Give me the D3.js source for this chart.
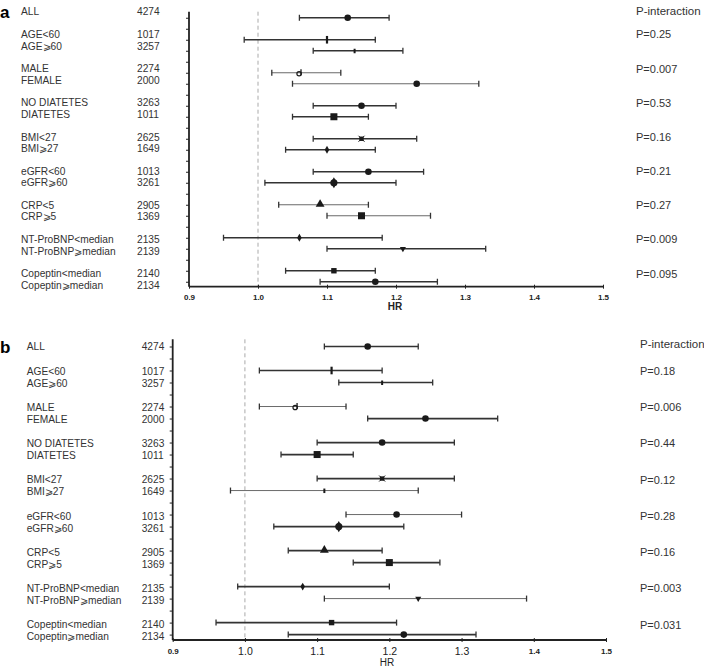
<!DOCTYPE html>
<html>
<head>
<meta charset="utf-8">
<script src="https://cdn.jsdelivr.net/npm/d3@7"></script>
<style>
  body { margin: 0; background: #fff; }
  svg { display: block; font-family: "Liberation Sans", Arial, sans-serif; }
</style>
</head>
<body>
<svg id="chart" width="704" height="667"></svg>
<script>
// ---------------- data ----------------
const subgroups = ["ALL", "AGE<60", "AGE⩾60", "MALE", "FEMALE", "NO DIATETES", "DIATETES",
  "BMI<27", "BMI⩾27", "eGFR<60", "eGFR⩾60", "CRP<5", "CRP⩾5",
  "NT-ProBNP<median", "NT-ProBNP⩾median", "Copeptin<median", "Copeptin⩾median"];
const groupIds = [0, 1, 1, 2, 2, 3, 3, 4, 4, 5, 5, 6, 6, 7, 7, 8, 8];
const nValues = [4274, 1017, 3257, 2274, 2000, 3263, 1011, 2625, 1649, 1013, 3261, 2905, 1369, 2135, 2139, 2140, 2134];

const hrA = [1.13, 1.10, 1.14, 1.06, 1.23, 1.15, 1.11, 1.15, 1.10, 1.16, 1.11, 1.09, 1.15, 1.06, 1.21, 1.11, 1.17];
const loA = [1.06, 0.98, 1.08, 1.02, 1.05, 1.08, 1.05, 1.08, 1.04, 1.08, 1.01, 1.03, 1.10, 0.95, 1.10, 1.04, 1.09];
const hiA = [1.19, 1.17, 1.21, 1.12, 1.32, 1.20, 1.16, 1.23, 1.17, 1.24, 1.20, 1.16, 1.25, 1.18, 1.33, 1.17, 1.26];

const hrB = [1.17, 1.12, 1.19, 1.07, 1.25, 1.19, 1.10, 1.19, 1.11, 1.21, 1.13, 1.11, 1.20, 1.08, 1.24, 1.12, 1.22];
const loB = [1.11, 1.02, 1.13, 1.02, 1.17, 1.10, 1.05, 1.10, 0.98, 1.14, 1.04, 1.06, 1.15, 0.99, 1.11, 0.96, 1.06];
const hiB = [1.24, 1.19, 1.26, 1.14, 1.35, 1.29, 1.15, 1.29, 1.24, 1.30, 1.22, 1.19, 1.27, 1.20, 1.39, 1.21, 1.32];

const pHeader = "P-interaction";
const pA = ["P=0.25", "P=0.007", "P=0.53", "P=0.16", "P=0.21", "P=0.27", "P=0.009", "P=0.095"];
const pB = ["P=0.18", "P=0.006", "P=0.44", "P=0.12", "P=0.28", "P=0.16", "P=0.003", "P=0.031"];

const xTicks = [0.9, 1.0, 1.1, 1.2, 1.3, 1.4, 1.5];
const xDomain = [0.9, 1.5];
const refValue = 1.0;

const markersA = ["circle", "vbar", "tick", "d", "circle", "circle", "square", "xbox", "diamondS",
  "circle", "circleL", "triangle", "square", "diamondS", "tridown", "squareS", "circle"];
const markersB = ["circle", "vbar", "tick", "d", "circle", "circle", "square", "xbox", "tick",
  "circle", "circleL", "triangle", "square", "diamondS", "tridown", "squareS", "circle"];

// ---------------- layout / style ----------------
const svg = d3.select("#chart");
const slots = subgroups.map((d, i) => i + groupIds[i]);

function drawMarker(g, type, x, y) {
  const col = "#1a1a1a";
  switch (type) {
    case "circle":
      g.append("circle").attr("cx", x).attr("cy", y).attr("r", 3.3).attr("fill", col); break;
    case "circleL":
      g.append("path").attr("d", d3.symbol(d3.symbolDiamond, 36)()).attr("transform", `translate(${x},${y})`).attr("fill", col);
      g.append("circle").attr("cx", x).attr("cy", y).attr("r", 3.6).attr("fill", col); break;
    case "square":
      g.append("rect").attr("x", x - 3.5).attr("y", y - 3.5).attr("width", 7).attr("height", 7).attr("fill", col); break;
    case "squareS":
      g.append("rect").attr("x", x - 2.7).attr("y", y - 2.7).attr("width", 5.4).attr("height", 5.4).attr("fill", col); break;
    case "triangle":
      g.append("path").attr("d", d3.symbol(d3.symbolTriangle, 34)()).attr("transform", `translate(${x},${y - 0.5})`).attr("fill", col); break;
    case "tridown":
      g.append("path").attr("d", d3.symbol(d3.symbolTriangle, 16)()).attr("transform", `translate(${x},${y}) rotate(180)`).attr("fill", col); break;
    case "diamondS":
      g.append("path").attr("d", d3.symbol(d3.symbolDiamond, 18)()).attr("transform", `translate(${x},${y})`).attr("fill", col); break;
    case "xbox":
      g.append("rect").attr("x", x - 2.2).attr("y", y - 2.2).attr("width", 4.4).attr("height", 4.4).attr("fill", col);
      g.append("path").attr("d", `M${x - 3},${y - 3}L${x + 3},${y + 3}M${x - 3},${y + 3}L${x + 3},${y - 3}`).attr("stroke", col).attr("stroke-width", 1); break;
    case "vbar":
      g.append("rect").attr("x", x - 1.1).attr("y", y - 3.8).attr("width", 2.2).attr("height", 7.6).attr("fill", col); break;
    case "tick":
      g.append("rect").attr("x", x - 1).attr("y", y - 2).attr("width", 2).attr("height", 4.5).attr("fill", col); break;
    case "d":
      g.append("circle").attr("cx", x - 0.3).attr("cy", y + 1).attr("r", 2.2).attr("fill", "none").attr("stroke", col).attr("stroke-width", 1.2);
      g.append("path").attr("d", `M${x + 1.6},${y + 2.5}L${x + 1.6},${y - 3.5}`).attr("stroke", col).attr("stroke-width", 1.3); break;
  }
}

function drawPanel(cfg) {
  const g = svg.append("g");
  const x = d3.scaleLinear().domain(xDomain).range([cfg.x0, cfg.x1]);
  const y = d3.scaleLinear().domain(cfg.yDomain).range([cfg.yTop, cfg.yBottom]);
  const yl = d3.scaleLinear().domain([0, 24]).range(cfg.labelRange);

  // panel letter
  g.append("text").attr("x", cfg.letterX).attr("y", yl(0)).attr("dy", "0.36em")
    .attr("font-size", 17).attr("font-weight", "bold").attr("fill", "#000").text(cfg.letter);

  // labels and n
  subgroups.forEach((s, i) => {
    g.append("text").attr("x", cfg.labelX).attr("y", yl(slots[i])).attr("dy", "0.36em")
      .attr("font-size", 10.2).attr("fill", "#333").text(s);
    g.append("text").attr("x", cfg.nX).attr("y", yl(slots[i])).attr("dy", "0.36em")
      .attr("font-size", 10.2).attr("fill", "#333").text(nValues[i]);
  });

  // P column
  g.append("text").attr("x", cfg.pX).attr("y", yl(0) + cfg.pHeadDy).attr("dy", "0.36em")
    .attr("font-size", 11.5).attr("fill", "#333").text(pHeader);
  const firstRows = [];
  groupIds.forEach((gid, i) => { if (gid > 0 && groupIds[i - 1] !== gid) firstRows.push(i); });
  cfg.pvals.forEach((p, j) => {
    g.append("text").attr("x", cfg.pX).attr("y", yl(slots[firstRows[j]])).attr("dy", "0.36em")
      .attr("font-size", 11).attr("fill", "#333").text(p);
  });

  // reference line
  g.append("line").attr("x1", x(refValue)).attr("x2", x(refValue))
    .attr("y1", cfg.yTop).attr("y2", cfg.yBottom)
    .attr("stroke", "#aaa").attr("stroke-width", 1).attr("stroke-dasharray", "4,3");

  // y axis
  const yAxis = d3.axisLeft(y).tickValues(d3.range(0, 25)).tickSize(3).tickFormat("");
  const ya = g.append("g").attr("transform", `translate(${cfg.x0},0)`).call(yAxis);
  ya.select(".domain").attr("stroke", "#222").attr("stroke-width", 1.8).attr("d", `M0,${cfg.yTop}V${cfg.yBottom}`);
  ya.selectAll(".tick line").attr("stroke", "#222").attr("stroke-width", 1);

  // x axis
  const xAxis = d3.axisBottom(x).tickValues(xTicks).tickSize(3).tickFormat(d3.format(".1f"));
  const xa = g.append("g").attr("transform", `translate(0,${cfg.yBottom})`).call(xAxis);
  xa.select(".domain").attr("stroke", "#222").attr("stroke-width", 1.8).attr("d", `M${cfg.x0},0H${cfg.x1}`);
  xa.selectAll(".tick line").attr("stroke", "#222").attr("y1", -2).attr("y2", 2);
  xa.selectAll(".tick text").attr("fill", "#222").attr("y", cfg.tickLabelDy).attr("dy", "0.36em")
    .attr("font-family", "\"Liberation Sans\", Arial, sans-serif")
    .each(function (d) {
      const bold = cfg.boldTick(d);
      d3.select(this).attr("font-weight", bold ? "bold" : "normal").attr("font-size", bold ? 8 : 10.5);
    });

  g.append("text").attr("x", cfg.hrX).attr("y", cfg.yBottom + cfg.hrDy).attr("dy", "0.36em")
    .attr("text-anchor", "middle").attr("font-size", 10).attr("font-weight", cfg.hrBold ? "bold" : "normal")
    .attr("fill", "#222").text("HR");

  // error bars
  subgroups.forEach((s, i) => {
    const yy = y(slots[i]);
    const thin = cfg.thinRows.includes(i);
    const col = thin ? "#6a6a6a" : "#333";
    const sw = thin ? 1 : 1.7;
    const row = g.append("g");
    row.append("line").attr("x1", x(cfg.lo[i])).attr("x2", x(cfg.hi[i])).attr("y1", yy).attr("y2", yy)
      .attr("stroke", col).attr("stroke-width", sw);
    [cfg.lo[i], cfg.hi[i]].forEach(v => {
      row.append("line").attr("x1", x(v)).attr("x2", x(v)).attr("y1", yy - 3).attr("y2", yy + 3)
        .attr("stroke", "#333").attr("stroke-width", 1.3);
    });
    drawMarker(row, cfg.markers[i], x(cfg.hr[i]), yy);
  });
}

drawPanel({
  letter: "a", letterX: 0, labelX: 21, nX: 137, pX: 636, pHeadDy: -0.5,
  x0: 189, x1: 603, yTop: 11.7, yBottom: 286.7, yDomain: [-0.55, 24.45],
  labelRange: [11.7, 285],
  hr: hrA, lo: loA, hi: hiA, pvals: pA, markers: markersA,
  thinRows: [3, 4, 11, 12],
  tickLabelDy: 10, boldTick: d => true, hrX: 395, hrDy: 20, hrBold: true
});

drawPanel({
  letter: "b", letterX: 0, labelX: 26.7, nX: 141.7, pX: 640, pHeadDy: -2.5,
  x0: 172.7, x1: 606, yTop: 339.3, yBottom: 640, yDomain: [-0.6, 24.45],
  labelRange: [346.7, 636.7],
  hr: hrB, lo: loB, hi: hiB, pvals: pB, markers: markersB,
  thinRows: [3, 8, 9, 14],
  tickLabelDy: 11.5, boldTick: d => d < 0.95 || d > 1.35, hrX: 387, hrDy: 22.5, hrBold: false
});
</script>
</body>
</html>
